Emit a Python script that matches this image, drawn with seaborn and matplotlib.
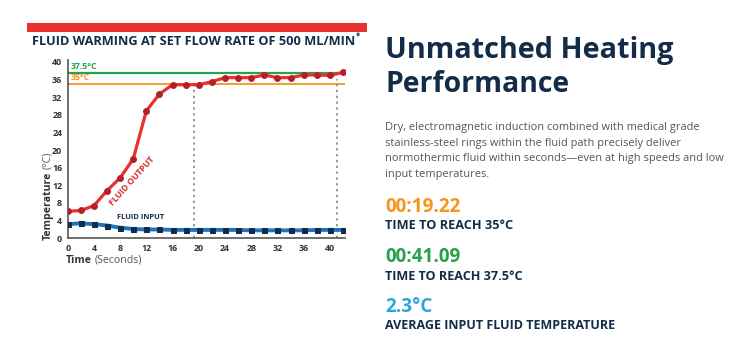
import matplotlib
matplotlib.use("Agg")
import matplotlib.pyplot as plt
import seaborn as sns
import numpy as np

# ---- data ----
time_s = [0, 2, 4, 6, 8, 10, 12, 14, 16, 18, 20, 22, 24, 26, 28, 30, 32, 34, 36, 38, 40, 42]
fluid_output = [6.1, 6.3, 7.4, 10.8, 13.7, 18.0, 28.9, 32.7, 34.8, 34.8, 34.8, 35.5, 36.4, 36.4,
                36.4, 37.0, 36.4, 36.4, 37.0, 37.0, 36.9, 37.6]
fluid_input = [3.2, 3.4, 3.2, 2.9, 2.4, 2.1, 2.0, 2.0, 1.9, 1.9, 1.9, 1.9, 1.9, 1.9,
               1.8, 1.8, 1.8, 1.8, 1.8, 1.9, 1.9, 1.9]
thresholds = [37.5, 35.0]
threshold_labels = ["37.5°C", "35°C"]
reach_times = [19.22, 41.09]
x_ticks = list(range(0, 41, 4))
y_ticks = list(range(0, 41, 4))

NAVY = "#132c48"
RED = "#e8312f"
DARKRED = "#b3202a"
ORANGE = "#f7941d"
GREEN = "#27a24a"
BLUE = "#1c74c2"
LBLUE = "#29a8e0"
GRAY = "#555555"

sns.set_theme(style="white")
plt.rcParams["font.family"] = ["Open Sans", "DejaVu Sans"]

W, H = 756, 349
fig = plt.figure(figsize=(W / 100, H / 100), dpi=100)
fig.patch.set_facecolor("white")
renderer = fig.canvas.get_renderer()

def fx(px):
    return px / W

def fy(py):
    return 1 - py / H

def fit_text(x, y, s, width_px, size, **kw):
    t = fig.text(fx(x), fy(y), s, fontsize=size, **kw)
    bb = t.get_window_extent(renderer)
    w = bb.width if kw.get("rotation", 0) == 0 else bb.height
    t.set_fontsize(size * width_px / w)
    return t

def extent(t):
    return t.get_window_extent(renderer)

ax = fig.add_axes([fx(67.7), fy(238.3), fx(345) - fx(67.7), fy(60) - fy(238.3)])
ax.set_facecolor("white")

# threshold lines
ax.axhline(thresholds[0], color=GREEN, lw=1.6, zorder=1)
ax.axhline(thresholds[1], color=ORANGE, lw=1.3, zorder=1)

# dotted verticals
ax.vlines(reach_times[0], 0, thresholds[1], colors="#999999", linestyles=(0, (1.2, 1.8)), lw=1.4, zorder=1)
ax.vlines(reach_times[1], 0, 36.0, colors="#999999", linestyles=(0, (1.2, 1.8)), lw=1.4, zorder=1)

sns.lineplot(x=time_s, y=fluid_output, ax=ax, color=RED, lw=2.3, marker="o",
             markersize=4.2, markerfacecolor=DARKRED, markeredgecolor=DARKRED, zorder=3)
sns.lineplot(x=time_s, y=fluid_input, ax=ax, color=BLUE, lw=2.8, marker="s",
             markersize=3.6, markerfacecolor=NAVY, markeredgecolor=NAVY, zorder=3)

ax.set_xlim(0, 42.3)
ax.set_ylim(0, 40.4)
ax.set_xticks(x_ticks)
ax.set_yticks(y_ticks)
ax.tick_params(axis="both", length=0, pad=4, labelsize=6.4, labelcolor="#333333")
for lab in ax.get_xticklabels() + ax.get_yticklabels():
    lab.set_fontweight("bold")
for s in ["top", "right"]:
    ax.spines[s].set_visible(False)
for s in ["left", "bottom"]:
    ax.spines[s].set_color("#555555")
    ax.spines[s].set_linewidth(1.2)
ax.set_xlabel("")
ax.set_ylabel("")

# threshold labels
ax.text(0.5, thresholds[0] + 0.5, threshold_labels[0], color=GREEN, fontsize=6.2, fontweight="bold", va="bottom", ha="left")
ax.text(0.5, thresholds[1] + 0.4, threshold_labels[1], color=ORANGE, fontsize=6.2, fontweight="bold", va="bottom", ha="left")

# inline labels
fig.text(fx(132.5), fy(181.5), "FLUID OUTPUT", color="#d52b2b", fontsize=6.2, fontweight="bold",
         rotation=48, ha="center", va="center")
fit_text(116.7, 217.7, "FLUID INPUT", 47, 6, color=NAVY, fontweight="bold", ha="left", va="center")

# axis labels (y: bottom at 240 px, reading upward)
t1 = fig.text(fx(48), fy(240), "Temperature", color="#333333", fontsize=7.6, fontweight="bold",
              rotation=90, ha="center", va="bottom", rotation_mode="anchor")
t1.set_ha("left"); t1.set_va("center")
bb = extent(t1)
top_px = H - bb.y1
fig.text(fx(48), fy(top_px - 3), "(°C)", color="#555555", fontsize=7.6, rotation=90,
         ha="left", va="center", rotation_mode="anchor")

t2 = fig.text(fx(65.7), fy(263), "Time", color="#333333", fontsize=7.6, fontweight="bold", ha="left", va="baseline")
bb2 = extent(t2)
fig.text(fx(bb2.x1 + 3), fy(263), "(Seconds)", color="#555555", fontsize=7.6, ha="left", va="baseline")

# red bar + chart title
fig.add_artist(plt.Rectangle((fx(26.7), fy(32.3)), fx(366.7) - fx(26.7), fy(23.3) - fy(32.3),
                             transform=fig.transFigure, color=RED, lw=0))
tt = fit_text(32, 45, "FLUID WARMING AT SET FLOW RATE OF 500 ML/MIN", 324, 8.6,
              color=NAVY, fontweight="bold", ha="left", va="baseline")
bbt = extent(tt)
fig.text(fx(bbt.x1 + 1), fy(39), "*", color=NAVY, fontsize=5.5, fontweight="bold", ha="left", va="baseline")

# right panel
fit_text(385, 58.3, "Unmatched Heating", 288, 22, color=NAVY, fontweight="bold", ha="left", va="baseline")
fit_text(385, 91.7, "Performance", 183, 22, color=NAVY, fontweight="bold", ha="left", va="baseline")

para = ["Dry, electromagnetic induction combined with medical grade",
        "stainless-steel rings within the fluid path precisely deliver",
        "normothermic fluid within seconds\u2014even at high speeds and low",
        "input temperatures."]
p0 = fit_text(385, 130, para[0], 310, 7.6, color=GRAY, ha="left", va="baseline")
psize = p0.get_fontsize()
for i, line in enumerate(para[1:], start=1):
    fig.text(fx(385), fy(130 + i * 15.7), line, color=GRAY, fontsize=psize, ha="left", va="baseline")

stats = [("00:19.22", ORANGE, 211.7, "TIME TO REACH 35°C", 229.3, 128),
         ("00:41.09", GREEN, 261.7, "TIME TO REACH 37.5°C", 280, 138),
         ("2.3°C", LBLUE, 311.7, "AVERAGE INPUT FLUID TEMPERATURE", 329.3, 230)]
for big, col, yb, small, ys, wsmall in stats:
    fig.text(fx(385), fy(yb), big, color=col, fontsize=13.6, fontweight="bold", ha="left", va="baseline")
    fit_text(385, ys, small, wsmall, 7.4, color=NAVY, fontweight="bold", ha="left", va="baseline")

fig.savefig("out.png", dpi=100, facecolor="white")
